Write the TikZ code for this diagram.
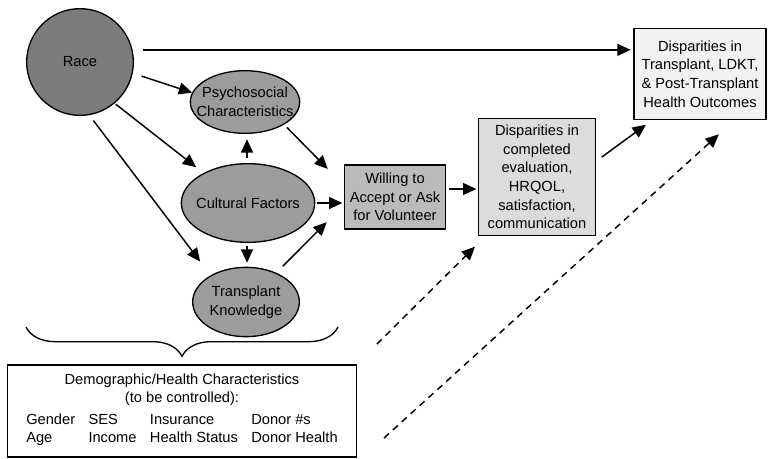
\documentclass[tikz,border=0pt]{standalone}
\usepackage{fontspec}
\setmainfont{Liberation Sans}
\usepackage{xcolor}
\usepackage{tikz}
\usetikzlibrary{arrows.meta,positioning,calc,decorations.pathreplacing,shapes.geometric}
\definecolor{racegray}{HTML}{7C7C7C}
\definecolor{ovalgray}{HTML}{9C9C9C}
\definecolor{boxgray}{HTML}{BBBBBB}
\definecolor{palegray}{HTML}{DCDCDC}
\definecolor{lightgray}{HTML}{F2F2F2}

\begin{document}
\begin{tikzpicture}[x=0.75pt,y=-0.75pt,>={Triangle[length=10pt,width=9pt]},
  every node/.style={font=\fontsize{11}{14}\selectfont},
  oval/.style={draw,ellipse,line width=1pt,fill=ovalgray,inner sep=0pt},
  bx/.style={draw,line width=1pt,align=center,inner sep=1pt},
  arr/.style={->,line width=1.1pt},
  darr/.style={->,line width=1.1pt,dash pattern=on 5pt off 4pt}]
  \useasboundingbox (0,0) rectangle (768,458);
  \node[draw,circle,line width=1pt,fill=racegray,minimum size=80pt] (race) at (80,62) {Race};
  \node[oval,minimum width=82pt,minimum height=47pt,label={[align=center]center:Psychosocial\\Characteristics}] (psy) at (245,102) {};
  \node[oval,minimum width=100pt,minimum height=59pt,label={center:Cultural Factors}] (cul) at (248,203) {};
  \node[oval,minimum width=80pt,minimum height=52pt,label={[align=center]center:Transplant\\Knowledge}] (tk) at (246,302) {};
  \node[bx,fill=boxgray,minimum width=76pt,minimum height=48pt] (wil) at (395,197) {Willing to\\Accept or Ask\\for Volunteer};
  \node[bx,fill=palegray,minimum width=88pt,minimum height=88pt] (comp) at (537,177) {Disparities in\\completed\\evaluation,\\HRQOL,\\satisfaction,\\communication};
  \node[bx,fill=lightgray,minimum width=99pt,minimum height=68pt] (out) at (700,74) {Disparities in\\Transplant, LDKT,\\\& Post-Transplant\\Health Outcomes};
  \node[bx,minimum width=262pt,minimum height=69pt,inner sep=2pt] (demo) at (182,411) {Demographic/Health Characteristics\\(to be controlled):\\[3pt]
    \begin{tabular}{@{}l@{\hspace{10pt}}l@{\hspace{10pt}}l@{\hspace{10pt}}l@{}}Gender & SES & Insurance & Donor \#s\\ Age & Income & Health Status & Donor Health\end{tabular}};
  \coordinate (bl) at (26,327);
  \coordinate (br) at (338,327);
  \draw[line width=1pt,decorate,decoration={brace,mirror,amplitude=22pt}] (bl) -- (br);
  \draw[arr,shorten <=8pt,shorten >=2pt] (race.13) -- (race.13 -| out.west);
  \draw[arr,shorten <=7pt] (race.-12) -- (psy.170);
  \draw[arr,shorten <=1pt,shorten >=7pt] (race.-50) -- (cul.146);
  \draw[arr,shorten <=5pt,shorten >=13pt] (race.-80) -- (tk.143);
  \draw[arr,shorten <=4pt,shorten >=4pt] (cul.north -| 247,0) -- (psy.south -| 247,0);
  \draw[arr,shorten <=2pt,shorten >=3pt] (cul.south -| 247,0) -- (tk.north -| 247,0);
  \draw[arr,shorten <=3pt,shorten >=17pt] (psy.-30) -- (wil.167);
  \draw[arr,shorten <=1pt,shorten >=1pt] (cul.east) -- (cul.east -| wil.west);
  \draw[arr,shorten <=7pt,shorten >=18pt] (tk.44) -- (wil.189);
  \draw[arr,shorten <=2pt,shorten >=1pt] ([yshift=6pt]wil.east) -- ([yshift=6pt]wil.east -| comp.west);
  \draw[arr,shorten <=5pt,shorten >=6pt] (comp.15) -- (out.224);
  \coordinate (d1) at (377,344);
  \coordinate (d2) at (384,438);
  \draw[darr,shorten >=11pt] (d1) -- (comp.229);
  \draw[darr,shorten >=16pt] (d2) -- (out.-53);
\end{tikzpicture}
\end{document}
